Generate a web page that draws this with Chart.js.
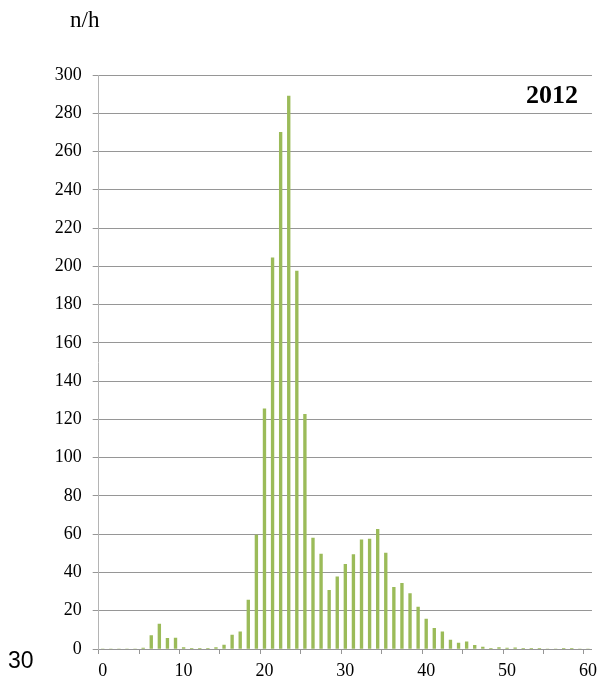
<!DOCTYPE html>
<html>
<head>
<meta charset="utf-8">
<script src="https://cdn.jsdelivr.net/npm/chart.js@4/dist/chart.umd.min.js"></script>
<style>
  html, body { margin: 0; padding: 0; background: #fff; }
  #wrap { width: 603px; height: 685px; position: relative; }
</style>
</head>
<body>
<div id="wrap"><canvas id="myChart"></canvas></div>
<script>
const categories = [
  "0", "1", "2", "3", "4", "5", "6", "7", "8", "9",
  "10", "11", "12", "13", "14", "15", "16", "17", "18", "19",
  "20", "21", "22", "23", "24", "25", "26", "27", "28", "29",
  "30", "31", "32", "33", "34", "35", "36", "37", "38", "39",
  "40", "41", "42", "43", "44", "45", "46", "47", "48", "49",
  "50", "51", "52", "53", "54", "55", "56", "57", "58", "59",
  "60"
];
const values = [
  0, 0, 0, 0, 0, 0.5, 7, 13, 5.6, 5.7,
  0.7, 0.2, 0.2, 0.2, 0.7, 2.1, 7.3, 9, 25.6, 59.5,
  125.5, 204.5, 270, 289, 197.5, 122.6, 58, 49.6, 30.6, 37.7,
  44.2, 49.3, 57, 57.4, 62.6, 50.1, 32.2, 34.3, 29, 21.9,
  15.7, 10.8, 9, 4.7, 3.1, 3.8, 1.9, 1, 0.3, 0.7,
  0.5, 0.6, 0.3, 0.3, 0.2, 0, 0, 0.2, 0.2, 0,
  0
];
const yTicks = [0, 20, 40, 60, 80, 100, 120, 140, 160, 180, 200, 220, 240, 260, 280, 300];
const xLabelEvery = 10;
const xTickEvery = 5;
const unitLabel = "n/h";
const yearLabel = "2012";
const cornerLabel = "30";

const serif = "'Liberation Serif', 'Times New Roman', serif";
const gridGray = "#969696";

// extra texts on the canvas
const textsPlugin = {
  id: "texts",
  afterDraw(chart) {
    const c = chart.ctx;
    const area = chart.chartArea;
    c.save();
    c.fillStyle = "#000";
    c.textBaseline = "alphabetic";
    c.textAlign = "left";
    c.font = "23px " + serif;
    c.fillText(unitLabel, 70, 27);
    c.font = "bold 26px " + serif;
    c.textAlign = "right";
    c.fillText(yearLabel, area.right - 14, 103);
    c.font = "23px 'Liberation Sans', Arial, sans-serif";
    c.textAlign = "left";
    c.fillText(cornerLabel, 8, 668);
    c.restore();
  }
};

const ctx = document.getElementById("myChart").getContext("2d");
const myChart = new Chart(ctx, {
  type: "bar",
  data: {
    labels: categories,
    datasets: [{
      data: values,
      backgroundColor: "#9bbb59",
      borderWidth: 0,
      barThickness: 2.7
    }]
  },
  options: {
    responsive: true,
    maintainAspectRatio: false,
    animation: false,
    layout: { padding: { left: 0, right: 8, top: 75, bottom: 0 } },
    plugins: {
      legend: { display: false },
      tooltip: { enabled: false }
    },
    scales: {
      x: {
        type: "category",
        offset: true,
        afterFit: (scale) => { scale.height = 36; },
        grid: {
          offset: true,
          drawOnChartArea: false,
          tickLength: 5,
          tickColor: (c) => (c.index % xTickEvery === 0 && c.index <= 60) ? gridGray : "rgba(0,0,0,0)"
        },
        border: { color: gridGray },
        ticks: {
          autoSkip: false,
          maxRotation: 0,
          padding: 6,
          color: "#000",
          font: { family: serif, size: 18 },
          callback: function (val, i) {
            return i % xLabelEvery === 0 ? categories[i] : "";
          }
        }
      },
      y: {
        min: 0,
        max: 300,
        afterFit: (scale) => { scale.width = 98.7; },
        afterBuildTicks: (scale) => { scale.ticks = yTicks.map(v => ({ value: v })); },
        grid: { color: gridGray, tickLength: 6 },
        border: { color: "#b4b4b4" },
        ticks: {
          padding: 11,
          color: "#000",
          font: { family: serif, size: 18 }
        }
      }
    }
  },
  plugins: [textsPlugin]
});
</script>
</body>
</html>
